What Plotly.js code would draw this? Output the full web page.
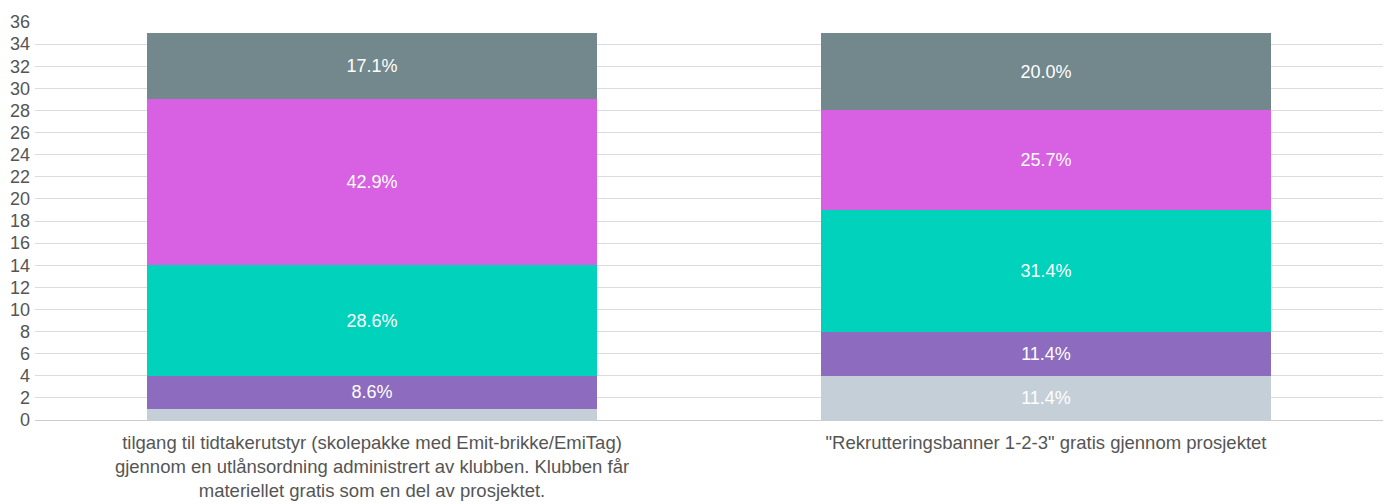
<!DOCTYPE html>
<html>
<head>
<meta charset="utf-8">
<script src="https://cdn.plot.ly/plotly-3.0.1.min.js"></script>
<style>html,body{margin:0;padding:0;background:#fff;}#chart{width:1391px;height:504px;}</style>
</head>
<body>
<div id="chart"></div>
<script>
var categories = [
  "tilgang til tidtakerutstyr (skolepakke med Emit-brikke/EmiTag)<br>gjennom en utlånsordning administrert av klubben. Klubben får<br>materiellet gratis som en del av prosjektet.",
  "\"Rekrutteringsbanner 1-2-3\" gratis gjennom prosjektet"
];
var seriesColors = ["#c5cfd8", "#8d6bbf", "#00d2bc", "#d860e2", "#72888d"];
var s1 = [1, 4];
var s2 = [3, 4];
var s3 = [10, 11];
var s4 = [15, 9];
var s5 = [6, 7];
var labels1 = ["", "11.4%"];
var labels2 = ["8.6%", "11.4%"];
var labels3 = ["28.6%", "31.4%"];
var labels4 = ["42.9%", "25.7%"];
var labels5 = ["17.1%", "20.0%"];
var yTicks = [0,2,4,6,8,10,12,14,16,18,20,22,24,26,28,30,32,34,36];

var series = [s1, s2, s3, s4, s5];
var labels = [labels1, labels2, labels3, labels4, labels5];
var traces = series.map(function(vals, i) {
  return {
    type: "bar",
    x: categories,
    y: vals,
    text: labels[i],
    texttemplate: "%{text}",
    textposition: "inside",
    insidetextanchor: "middle",
    textangle: 0,
    constraintext: "none",
    textfont: {color: "#ffffff", size: 18, family: "Liberation Sans, Arial, sans-serif"},
    marker: {color: seriesColors[i]},
    hoverinfo: "none",
    showlegend: false
  };
});

var layout = {
  barmode: "stack",
  bargap: 0.332,
  width: 1391,
  height: 504,
  margin: {l: 35, r: 8, t: 22, b: 84},
  paper_bgcolor: "#ffffff",
  plot_bgcolor: "#ffffff",
  font: {family: "Liberation Sans, Arial, sans-serif", color: "#555555", size: 16},
  xaxis: {
    showgrid: false,
    showline: false,
    ticks: "",
    ticklabelstandoff: 9,
    tickfont: {size: 18.5, color: "#555555"},
    fixedrange: true
  },
  yaxis: {
    range: [0, 36],
    tickvals: yTicks,
    ticktext: yTicks.map(String),
    showgrid: true,
    gridcolor: "#dcdcdc",
    gridwidth: 1,
    zeroline: true,
    zerolinecolor: "#cccccc",
    zerolinewidth: 1,
    showline: false,
    ticks: "",
    ticklabelstandoff: 4,
    tickfont: {size: 18, color: "#555555"},
    fixedrange: true
  }
};

Plotly.newPlot("chart", traces, layout, {displayModeBar: false, staticPlot: true});
</script>
</body>
</html>
